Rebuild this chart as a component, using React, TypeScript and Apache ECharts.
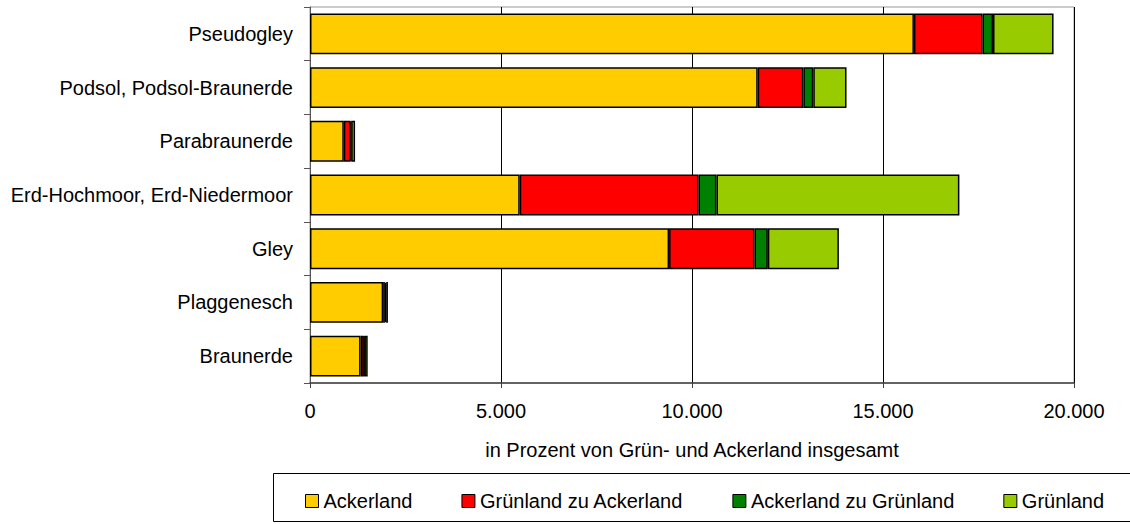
import React, { useEffect, useRef } from "react";
import * as echarts from "echarts";

// Categories listed bottom-to-top (ECharts category axis starts at the bottom)
const categories = [
  "Braunerde",
  "Plaggenesch",
  "Gley",
  "Erd-Hochmoor, Erd-Niedermoor",
  "Parabraunerde",
  "Podsol, Podsol-Braunerde",
  "Pseudogley",
];
const ackerland = [1325, 1915, 9400, 5490, 885, 11720, 15810];
const gruenZuAcker = [85, 45, 2235, 4680, 175, 1195, 1795];
const ackerZuGruen = [15, 35, 350, 470, 20, 260, 275];
const gruenland = [85, 45, 1860, 6360, 100, 870, 1585];

const seriesNames = ["Ackerland", "Grünland zu Ackerland", "Ackerland zu Grünland", "Grünland"];
const seriesColors = ["#FFCC00", "#FF0000", "#008000", "#99CC00"];
const xMin = 0;
const xMax = 20000;
const xInterval = 5000;
const xAxisName = "in Prozent von Grün- und Ackerland insgesamt";

const FONT = "'Liberation Sans', Arial, sans-serif";

function fmt(v: number): string {
  return String(Math.round(v)).replace(/\B(?=(\d{3})+(?!\d))/g, ".");
}

export default function App() {
  const ref = useRef<HTMLDivElement>(null);
  useEffect(() => {
    if (!ref.current) return;
    const chart = echarts.init(ref.current, undefined, { renderer: "svg" });
    const dataSets = [ackerland, gruenZuAcker, ackerZuGruen, gruenland];
    chart.setOption({
      animation: false,
      textStyle: { fontFamily: FONT },
      grid: {
        left: 310,
        top: 7,
        width: 764,
        height: 376,
        show: true,
        borderColor: "#999999",
        borderWidth: 1,
        containLabel: false,
      },
      legend: {
        data: seriesNames,
        left: 300,
        top: 486,
        itemWidth: 13,
        itemHeight: 13,
        itemGap: 49,
        icon: "rect",
        itemStyle: { borderColor: "#000", borderWidth: 1 },
        textStyle: { fontSize: 20, color: "#000", fontFamily: FONT },
      },
      xAxis: {
        type: "value",
        min: xMin,
        max: xMax,
        interval: xInterval,
        name: xAxisName,
        nameLocation: "middle",
        nameGap: 57,
        nameTextStyle: { fontSize: 20, color: "#000", fontFamily: FONT },
        axisLine: { show: true, lineStyle: { color: "#404040", width: 1.5 } },
        axisTick: { show: true, length: 5, lineStyle: { color: "#404040" } },
        splitLine: { show: true, lineStyle: { color: "#000", width: 1 } },
        axisLabel: {
          fontSize: 20,
          color: "#000",
          margin: 18,
          fontFamily: FONT,
          formatter: (v: number) => fmt(v),
        },
      },
      yAxis: {
        type: "category",
        data: categories,
        axisLine: { show: true, lineStyle: { color: "#555", width: 1 } },
        axisTick: { show: true, length: 6, lineStyle: { color: "#555" } },
        axisLabel: { fontSize: 20, color: "#000", margin: 17, fontFamily: FONT },
      },
      graphic: [
        {
          type: "rect",
          shape: { x: 273.5, y: 473.5, width: 900, height: 48 },
          style: { fill: "none", stroke: "#000", lineWidth: 1 },
          silent: true,
        },
      ],
      series: seriesNames.map((name, i) => ({
        name,
        type: "bar",
        stack: "total",
        barCategoryGap: "24%",
        data: dataSets[i],
        itemStyle: { color: seriesColors[i], borderColor: "#000", borderWidth: 1.5 },
      })),
    });
    return () => chart.dispose();
  }, []);
  return (
    <div
      ref={ref}
      style={{ position: "fixed", left: 0, top: 0, width: 1130, height: 524, background: "#fff" }}
    />
  );
}
